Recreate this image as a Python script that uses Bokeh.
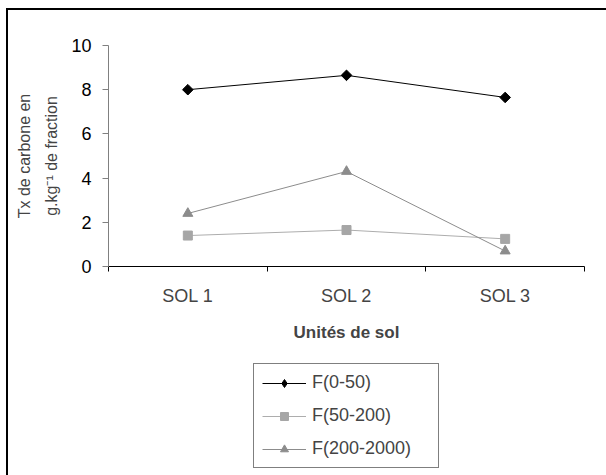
from bokeh.plotting import figure
from bokeh.layouts import column
from bokeh.models import (FactorRange, Range1d, LinearAxis, CategoricalAxis, FixedTicker,
                          Legend, LegendItem)
from bokeh.embed import file_html
from bokeh.resources import INLINE

# ---- data ----
sols = ["SOL 1", "SOL 2", "SOL 3"]
f_0_50 = [8.0, 8.65, 7.65]
f_50_200 = [1.4, 1.65, 1.25]
f_200_2000 = [2.4, 4.3, 0.7]
series_names = ["F(0-50)", "F(50-200)", "F(200-2000)"]
y_ticks = [0, 2, 4, 6, 8, 10]
y_label_1 = "Tx de carbone en"
y_label_2 = "g.kg\u207b\u00b9 de fraction"
x_label = "Unités de sol"

FONT = "Liberation Sans"
STYLES = [
    dict(line_color="black", marker="square", angle=0.785398, size=7.5, mcolor="black",
         legend_marker="diamond", legend_size=12),
    dict(line_color="#ADADAD", marker="square", angle=0.0, size=9, mcolor="#A6A6A6",
         legend_marker="square", legend_size=9),
    dict(line_color="#8C8C8C", marker="triangle", angle=0.0, size=10, mcolor="#8C8C8C",
         legend_marker="triangle", legend_size=10),
]
SERIES = [f_0_50, f_50_200, f_200_2000]


def add_series(fig, for_legend=False):
    rends = []
    for vals, st in zip(SERIES, STYLES):
        rl = fig.line(sols, vals, line_color=st["line_color"], line_width=1)
        if for_legend:
            rm = fig.scatter(sols, vals, marker=st["legend_marker"], size=st["legend_size"],
                             fill_color=st["mcolor"], line_color=st["mcolor"])
        else:
            rm = fig.scatter(sols, vals, marker=st["marker"], angle=st["angle"], size=st["size"],
                             fill_color=st["mcolor"], line_color=st["mcolor"])
        rends.append([rl, rm])
    return rends


# ---------------- main chart ----------------
p = figure(width=598, height=340, x_range=FactorRange(*sols), y_range=Range1d(0, 10),
           output_backend="svg", toolbar_location=None,
           x_axis_location=None, y_axis_location=None,
           min_border_left=100, min_border_right=22, min_border_top=35, min_border_bottom=84,
           margin=(10, 0, 0, 8))
p.styles = {"box-shadow": "-2px 0 0 0 black, 0 -2px 0 0 black, -2px -2px 0 0 black"}
p.outline_line_color = None
p.grid.visible = False
p.background_fill_color = "white"
p.border_fill_color = "white"

# y axis (inner label line)
yax = LinearAxis(ticker=FixedTicker(ticks=y_ticks))
yax.axis_line_color = "#808080"
yax.major_tick_line_color = "#808080"
yax.major_tick_out = 6
yax.major_tick_in = 0
yax.minor_tick_line_color = None
yax.major_label_text_font = FONT
yax.major_label_text_font_size = "18px"
yax.major_label_text_color = "black"
yax.major_label_standoff = 11
yax.axis_label = y_label_2
yax.axis_label_text_font = FONT
yax.axis_label_text_font_size = "16px"
yax.axis_label_text_font_style = "normal"
yax.axis_label_standoff = 8
p.add_layout(yax, "left")

# outer label line, as a bare axis
yax2 = LinearAxis(ticker=FixedTicker(ticks=[]))
yax2.axis_line_color = None
yax2.major_tick_line_color = None
yax2.minor_tick_line_color = None
yax2.major_label_text_font_size = "1px"
yax2.major_label_standoff = 0
yax2.major_tick_out = 0
yax2.axis_label = y_label_1
yax2.axis_label_text_font = FONT
yax2.axis_label_text_font_size = "16px"
yax2.axis_label_text_font_style = "normal"
yax2.axis_label_standoff = 8
p.add_layout(yax2, "left")

# x axis: tick marks at category boundaries (synthetic coordinates 0..3)
xtick = LinearAxis(ticker=FixedTicker(ticks=list(range(len(sols) + 1))))
xtick.axis_line_color = "black"
xtick.major_tick_line_color = "black"
xtick.major_tick_out = 5
xtick.major_tick_in = 0
xtick.minor_tick_line_color = None
xtick.major_label_text_font_size = "1px"
xtick.major_label_text_color = None
xtick.major_label_standoff = 0
p.add_layout(xtick, "below")

# x axis: category labels
xcat = CategoricalAxis()
xcat.axis_line_color = None
xcat.major_tick_line_color = None
xcat.minor_tick_line_color = None
xcat.major_label_text_font = FONT
xcat.major_label_text_font_size = "18px"
xcat.major_label_standoff = 8
xcat.axis_label = x_label
xcat.axis_label_text_font = FONT
xcat.axis_label_text_font_style = "bold"
xcat.axis_label_text_font_size = "17px"
xcat.axis_label_standoff = 14
p.add_layout(xcat, "below")

add_series(p)

# ---------------- legend strip ----------------
q = figure(width=598, height=125, x_range=FactorRange(*sols), y_range=Range1d(100, 101),
           output_backend="svg", toolbar_location=None,
           x_axis_location=None, y_axis_location=None,
           min_border_left=100, min_border_right=22, min_border_top=0, min_border_bottom=0,
           margin=(0, 0, 0, 8))
q.styles = {"box-shadow": "-2px 0 0 0 black"}
q.outline_line_color = None
q.grid.visible = False
q.background_fill_color = "white"
q.border_fill_color = "white"

legend_rends = add_series(q, for_legend=True)
legend = Legend(items=[LegendItem(label=name, renderers=r)
                       for name, r in zip(series_names, legend_rends)],
                location="top_center")
legend.label_text_font = FONT
legend.label_text_font_size = "18px"
legend.glyph_width = 44
legend.glyph_height = 20
legend.label_height = 20
legend.label_width = 118
legend.label_standoff = 6
legend.spacing = 12
legend.padding = 8
legend.margin = 13
legend.border_line_color = "black"
legend.border_line_width = 1
legend.background_fill_color = "white"
legend.background_fill_alpha = 1
q.add_layout(legend, "center")

layout = column(p, q, spacing=0)
open("out.html", "w").write(file_html(layout, INLINE))
